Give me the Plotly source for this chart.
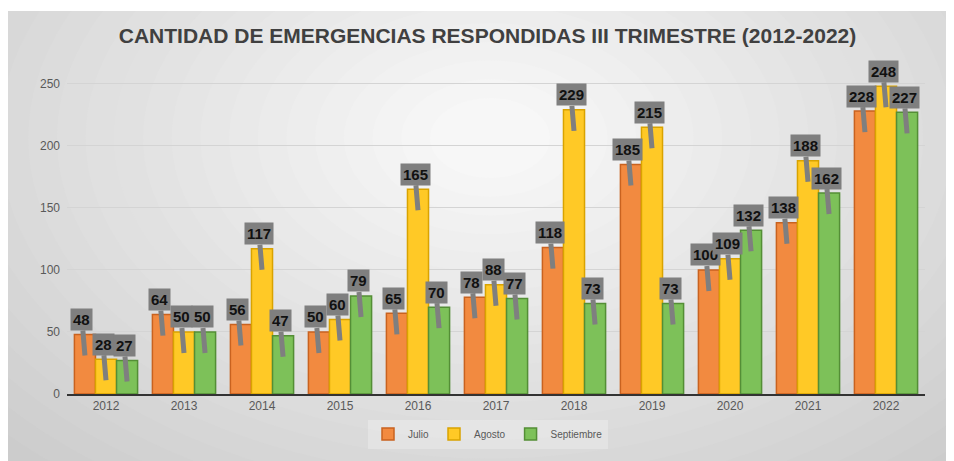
import plotly.graph_objects as go

# ---------------- data ----------------
years = ["2012", "2013", "2014", "2015", "2016", "2017", "2018", "2019", "2020", "2021", "2022"]
julio = [48, 64, 56, 50, 65, 78, 118, 185, 100, 138, 228]
agosto = [28, 50, 117, 60, 165, 88, 229, 215, 109, 188, 248]
septiembre = [27, 50, 47, 79, 70, 77, 73, 73, 132, 162, 227]
y_ticks = [0, 50, 100, 150, 200, 250]
title_text = "CANTIDAD DE EMERGENCIAS RESPONDIDAS III TRIMESTRE (2012-2022)"

# ---------------- layout geometry ----------------
# the page body adds an 8px offset; all targets below are expressed in figure pixels
OFS = 8
W, H = 954, 461
ML, MR, MT, MB = 67 - OFS, 29 + OFS, 59 - OFS, 67 + OFS
PW, PH = W - ML - MR, H - MT - MB
BARGAP = 0.19


def px_to_paper_x(px):
    return (px - ML) / PW


def px_to_paper_y(py):
    return (H - MB - py) / PH


series = [
    ("Julio", julio, "#F28A40", "#C9621F"),
    ("Agosto", agosto, "#FFC926", "#D9A300"),
    ("Septiembre", septiembre, "#7DC159", "#548E36"),
]

fig = go.Figure()
for name, vals, col, lcol in series:
    fig.add_trace(go.Bar(
        x=years, y=vals, name=name,
        marker=dict(color=col, line=dict(color=lcol, width=1.5)),
    ))

# ---------------- callout labels ----------------
bar_w = (1 - BARGAP) / len(series)
annotations = []
for k, (name, vals, col, lcol) in enumerate(series):
    off = (k - (len(series) - 1) / 2) * bar_w
    for i, v in enumerate(vals):
        annotations.append(dict(
            x=i + off, y=v, xref="x", yref="y",
            text="<b>%d</b>" % v,
            font=dict(family="Liberation Sans, Arial", size=15, color="#111111"),
            bgcolor="#7F7F7F", borderpad=2,
            showarrow=True, arrowhead=0, arrowwidth=5, arrowcolor="#7F7F7F",
            ax=-3, ay=-36, yshift=-21, standoff=0,
        ))

# ---------------- background gradient ----------------
shapes = []
x0, x1 = px_to_paper_x(-10), px_to_paper_x(W + 10)
y0, y1 = px_to_paper_y(H + 10), px_to_paper_y(-10)
shapes.append(dict(type="rect", xref="paper", yref="paper", x0=x0, x1=x1, y0=y0, y1=y1,
                   fillcolor="#CACACA", line=dict(width=0), layer="below"))
steps = 24
cx, cy = 482, 130
c_out, c_in = 202, 247
for s in range(steps):
    f = s / (steps - 1)
    rx = 720 * (1 - f) + 60 * f
    ry = 470 * (1 - f) + 40 * f
    g = int(round(c_out + (c_in - c_out) * f))
    shapes.append(dict(type="circle", xref="paper", yref="paper",
                       x0=px_to_paper_x(cx - rx), x1=px_to_paper_x(cx + rx),
                       y0=px_to_paper_y(cy + ry), y1=px_to_paper_y(cy - ry),
                       fillcolor="rgb(%d,%d,%d)" % (g, g, g), line=dict(width=0), layer="below"))
# thin white strip at the top
shapes.append(dict(type="rect", xref="paper", yref="paper", x0=x0, x1=x1,
                   y0=px_to_paper_y(3), y1=y1, fillcolor="white", line=dict(width=0), layer="below"))

fig.update_layout(
    width=W, height=H, autosize=False,
    margin=dict(l=ML, r=MR, t=MT, b=MB),
    paper_bgcolor="white", plot_bgcolor="rgba(0,0,0,0)",
    barmode="group", bargap=BARGAP, bargroupgap=0,
    font=dict(family="Liberation Sans, Arial", color="#595959"),
    title=dict(text="<b>%s</b>" % title_text, x=(487.5 - OFS) / W, xanchor="center",
               y=1 - (36 - OFS) / H, yanchor="middle", yref="container",
               font=dict(family="Liberation Sans, Arial", size=21, color="#404040")),
    xaxis=dict(showline=True, linecolor="#333333", linewidth=2, showgrid=False,
               tickfont=dict(size=12, color="#595959"), ticks=""),
    yaxis=dict(range=[0, 270], tickvals=y_ticks, showgrid=True, gridcolor="#D4D4D4",
               gridwidth=1, zeroline=False, showline=False,
               tickfont=dict(size=12, color="#595959"), ticks="", ticklabelstandoff=6),
    legend=dict(orientation="h", x=px_to_paper_x(488 - OFS), xanchor="center",
                y=px_to_paper_y(434 - OFS), yanchor="middle",
                bgcolor="rgba(255,255,255,0.25)", font=dict(size=10, color="#595959"),
                itemclick=False),
    annotations=annotations,
    shapes=shapes,
    showlegend=True,
)

fig.write_html("out.html")
